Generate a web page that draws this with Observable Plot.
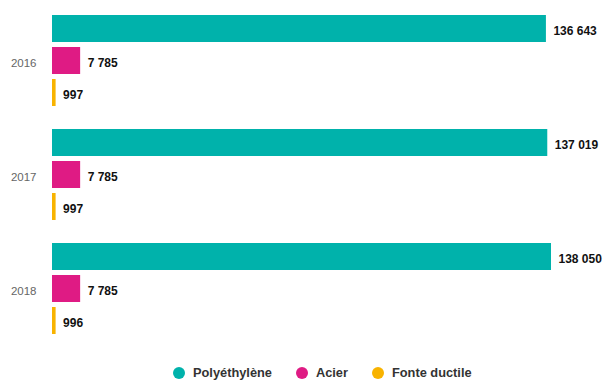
<!DOCTYPE html>
<html><head><meta charset="utf-8">
<script src="https://cdn.jsdelivr.net/npm/d3@7"></script>
<script src="https://cdn.jsdelivr.net/npm/@observablehq/plot@0.6"></script>
<style>
body{margin:0;background:#fff;font-family:"Liberation Sans",Arial,sans-serif;}
#chart svg{display:block;}
#legend{display:flex;align-items:center;height:31px;margin-top:7px;padding-left:173px;box-sizing:border-box;}
.item{display:flex;align-items:center;margin-right:24px;font-weight:bold;font-size:12.8px;color:#333;}
.dot{width:12px;height:12px;border-radius:50%;margin-right:8px;}
</style></head><body><div id="chart"></div><div id="legend"></div>
<script>
const years = ["2016", "2017", "2018"];
const materials = ["Polyéthylène", "Acier", "Fonte ductile"];
const polyethylene = [136643, 137019, 138050];
const acier = [7785, 7785, 7785];
const fonteDuctile = [997, 997, 996];
const colors = ["#00b2ab", "#df1b84", "#f8b300"];

const series = [polyethylene, acier, fonteDuctile];
const data = [];
years.forEach((y, i) => materials.forEach((m, j) => data.push({year: y, material: m, value: series[j][i]})));

const fmt = d3.formatLocale({decimal: ",", thousands: " ", grouping: [3], currency: ["", "€"]}).format(",d");

const plot = Plot.plot({
  width: 603, height: 350,
  marginTop: 12, marginBottom: 12, marginLeft: 52, marginRight: 52,
  style: {fontFamily: "'Liberation Sans', Arial, sans-serif"},
  x: {domain: [0, 138050], axis: null},
  fy: {domain: years, paddingInner: 0.145, paddingOuter: 0},
  y: {domain: materials, paddingInner: 0.17, paddingOuter: 0.085, axis: null},
  color: {domain: materials, range: colors},
  marks: [
    Plot.axisFy({anchor: "left", tickSize: 0, tickPadding: 16, fontSize: 11.5, fill: "#666", label: null, dy: 2}),
    Plot.barX(data, {x: "value", y: "material", fy: "year", fill: "material"}),
    Plot.text(data, {x: "value", y: "material", fy: "year", text: d => fmt(d.value), textAnchor: "start", dx: 7, dy: 2, fontWeight: "bold", fontSize: 12, fill: "#111"})
  ]
});
document.getElementById("chart").appendChild(plot);

const legend = document.getElementById("legend");
materials.forEach((m, i) => {
  const it = document.createElement("div");
  it.className = "item";
  const dot = document.createElement("span");
  dot.className = "dot";
  dot.style.background = colors[i];
  it.appendChild(dot);
  it.appendChild(document.createTextNode(m));
  legend.appendChild(it);
});
</script></body></html>
